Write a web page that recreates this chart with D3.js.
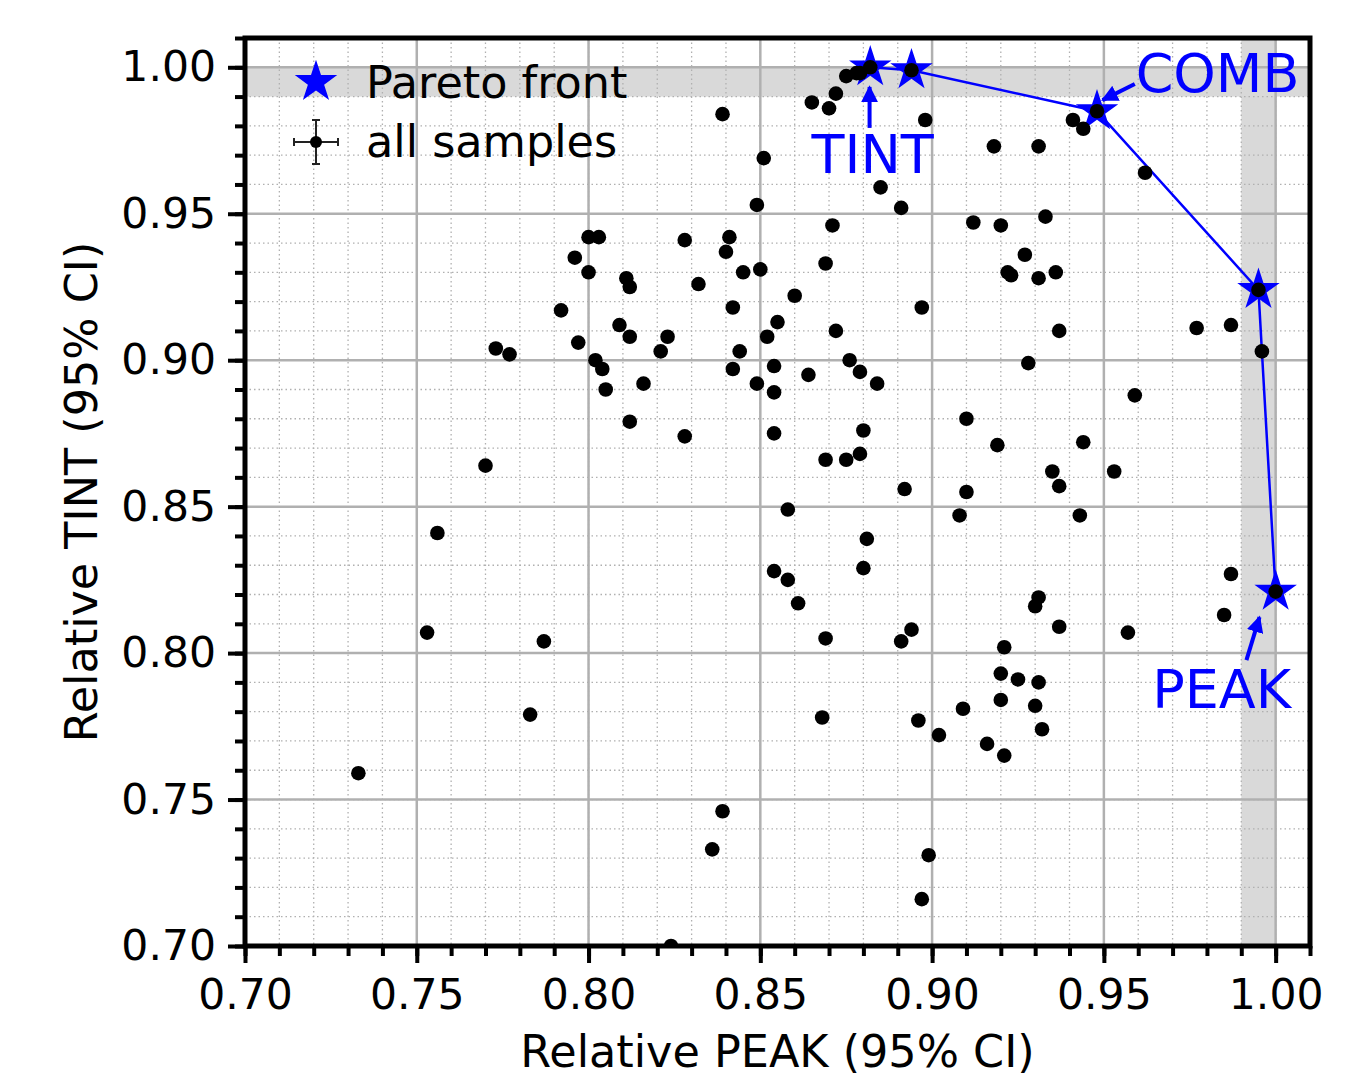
<!DOCTYPE html>
<html>
<head>
<meta charset="utf-8">
<script src="https://cdn.jsdelivr.net/npm/d3@7"></script>
<style>
  body { margin: 0; background: #fff; }
  text { font-family: "DejaVu Sans", sans-serif; }
</style>
</head>
<body>
<div id="chart"></div>
<script>
// all samples: relative PEAK (x) and relative TINT (y)
const samplePeak = [
  0.839, 0.865, 0.870, 0.872, 0.875, 0.878, 0.879, 0.882, 0.894, 0.948, 0.995, 1.000,
  0.851, 0.898, 0.918, 0.931, 0.941, 0.944, 0.962, 0.885, 0.849, 0.891, 0.933, 0.912,
  0.920, 0.871, 0.828, 0.800, 0.803, 0.841, 0.840, 0.796, 0.800, 0.850, 0.869, 0.927,
  0.922, 0.923, 0.931, 0.936, 0.811, 0.812, 0.832, 0.845, 0.842, 0.860, 0.792, 0.897,
  0.809, 0.855, 0.852, 0.872, 0.937, 0.977, 0.987, 0.812, 0.823, 0.821, 0.797, 0.773,
  0.777, 0.802, 0.844, 0.804, 0.805, 0.816, 0.842, 0.849, 0.854, 0.864, 0.876, 0.879,
  0.884, 0.996, 0.928, 0.854, 0.959, 0.812, 0.910, 0.828, 0.854, 0.880, 0.919, 0.944,
  0.869, 0.875, 0.879, 0.935, 0.953, 0.770, 0.937, 0.892, 0.910, 0.908, 0.943, 0.858,
  0.756, 0.881, 0.854, 0.880, 0.858, 0.987, 0.931, 0.930, 0.861, 0.937, 0.985, 0.957,
  0.753, 0.869, 0.894, 0.891, 0.787, 0.921, 0.920, 0.925, 0.931, 0.920, 0.930, 0.783,
  0.909, 0.868, 0.896, 0.932, 0.902, 0.916, 0.921, 0.733, 0.839, 0.836, 0.899, 0.897,
  0.824
];
const sampleTint = [
  0.984, 0.988, 0.986, 0.991, 0.997, 0.998, 0.998, 1.000, 0.999, 0.985, 0.924, 0.821,
  0.969, 0.982, 0.973, 0.973, 0.982, 0.979, 0.964, 0.959, 0.953, 0.952, 0.949, 0.947,
  0.946, 0.946, 0.941, 0.942, 0.942, 0.942, 0.937, 0.935, 0.930, 0.931, 0.933, 0.936,
  0.930, 0.929, 0.928, 0.930, 0.928, 0.925, 0.926, 0.930, 0.918, 0.922, 0.917, 0.918,
  0.912, 0.913, 0.908, 0.910, 0.910, 0.911, 0.912, 0.908, 0.908, 0.903, 0.906, 0.904,
  0.902, 0.900, 0.903, 0.897, 0.890, 0.892, 0.897, 0.892, 0.898, 0.895, 0.900, 0.896,
  0.892, 0.903, 0.899, 0.889, 0.888, 0.879, 0.880, 0.874, 0.875, 0.876, 0.871, 0.872,
  0.866, 0.866, 0.868, 0.862, 0.862, 0.864, 0.857, 0.856, 0.855, 0.847, 0.847, 0.849,
  0.841, 0.839, 0.828, 0.829, 0.825, 0.827, 0.819, 0.816, 0.817, 0.809, 0.813, 0.807,
  0.807, 0.805, 0.808, 0.804, 0.804, 0.802, 0.793, 0.791, 0.790, 0.784, 0.782, 0.779,
  0.781, 0.778, 0.777, 0.774, 0.772, 0.769, 0.765, 0.759, 0.746, 0.733, 0.731, 0.716,
  0.700
];

// Pareto front (line runs through all, stars on the marked ones)
const frontPeak = [0.882, 0.894, 0.948, 0.995, 0.996, 1.000];
const frontTint = [1.000, 0.999, 0.985, 0.924, 0.903, 0.821];
const frontStar = [true, true, true, true, false, true];

// annotated optima
const labelNames = ['TINT', 'COMB', 'PEAK'];
const labelPeak = [0.8827, 0.9831, 0.9843];
const labelTint = [0.9639, 0.9916, 0.7813];
const arrowFromPeak = [0.8818, 0.9590, 0.9915];
const arrowFromTint = [0.9793, 0.9943, 0.7976];
const arrowToPeak = [0.8818, 0.9496, 0.9953];
const arrowToTint = [0.9933, 0.9888, 0.8123];

const xTicks = [0.70, 0.75, 0.80, 0.85, 0.90, 0.95, 1.00];
const yTicks = [0.70, 0.75, 0.80, 0.85, 0.90, 0.95, 1.00];
const minorTicks = d3.range(70, 102).map(d => d / 100);

const W = 1367, H = 1082;
const margin = {t: 38, r: 57, b: 136, l: 245};
const w = W - margin.l - margin.r;
const h = H - margin.t - margin.b;

const x = d3.scaleLinear().domain([0.70, 1.01]).range([0, w]);
const y = d3.scaleLinear().domain([0.70, 1.01]).range([h, 0]);

const svg = d3.select('#chart').append('svg')
  .attr('width', W).attr('height', H);

const plot = svg.append('g')
  .attr('transform', `translate(${margin.l},${margin.t})`);

plot.append('clipPath').attr('id', 'clip')
  .append('rect').attr('width', w).attr('height', h);

// shaded optimum bands
plot.append('rect')
  .attr('x', 0).attr('width', w)
  .attr('y', y(1.00)).attr('height', y(0.99) - y(1.00))
  .attr('fill', '#d9d9d9');
plot.append('rect')
  .attr('x', x(0.99)).attr('width', x(1.00) - x(0.99))
  .attr('y', 0).attr('height', h)
  .attr('fill', '#d9d9d9');

// grid: minor dotted, major solid
const grid = plot.append('g');
grid.selectAll('.vminor').data(minorTicks).enter().append('line')
  .attr('x1', d => x(d)).attr('x2', d => x(d)).attr('y1', 0).attr('y2', h)
  .attr('stroke', '#b0b0b0').attr('stroke-width', 1.3).attr('stroke-dasharray', '1.5,3');
grid.selectAll('.hminor').data(minorTicks).enter().append('line')
  .attr('y1', d => y(d)).attr('y2', d => y(d)).attr('x1', 0).attr('x2', w)
  .attr('stroke', '#b0b0b0').attr('stroke-width', 1.3).attr('stroke-dasharray', '1.5,3');
grid.selectAll('.vmajor').data(xTicks).enter().append('line')
  .attr('x1', d => x(d)).attr('x2', d => x(d)).attr('y1', 0).attr('y2', h)
  .attr('stroke', '#b0b0b0').attr('stroke-width', 2.5);
grid.selectAll('.hmajor').data(yTicks).enter().append('line')
  .attr('y1', d => y(d)).attr('y2', d => y(d)).attr('x1', 0).attr('x2', w)
  .attr('stroke', '#b0b0b0').attr('stroke-width', 2.5);

// pareto front line
const line = d3.line().x(d => x(d[0])).y(d => y(d[1]));
const front = frontPeak.map((p, i) => [p, frontTint[i], frontStar[i]]);
plot.append('path')
  .datum(front)
  .attr('d', line)
  .attr('fill', 'none')
  .attr('stroke', '#0000ff')
  .attr('stroke-width', 2.5);

// stars
const star = d3.symbol().type(d3.symbolStar).size(560);
plot.selectAll('.star').data(front.filter(d => d[2])).enter().append('path')
  .attr('class', 'star')
  .attr('d', star)
  .attr('transform', d => `translate(${x(d[0])},${y(d[1])})`)
  .attr('fill', '#0000ff');

// samples
const samples = samplePeak.map((p, i) => [p, sampleTint[i]]);
plot.append('g').attr('clip-path', 'url(#clip)')
  .selectAll('circle').data(samples).enter().append('circle')
  .attr('cx', d => x(d[0]))
  .attr('cy', d => y(d[1]))
  .attr('r', 7.3)
  .attr('fill', '#000');

// annotations
const defs = svg.append('defs');
defs.append('marker')
  .attr('id', 'head')
  .attr('viewBox', '0 0 10 10')
  .attr('refX', 9).attr('refY', 5)
  .attr('markerWidth', 4.2).attr('markerHeight', 4.2)
  .attr('markerUnits', 'strokeWidth')
  .attr('orient', 'auto')
  .append('path').attr('d', 'M0,0 L10,5 L0,10 Z').attr('fill', '#0000ff');

labelNames.forEach((name, i) => {
  plot.append('line')
    .attr('x1', x(arrowFromPeak[i])).attr('y1', y(arrowFromTint[i]))
    .attr('x2', x(arrowToPeak[i])).attr('y2', y(arrowToTint[i]))
    .attr('stroke', '#0000ff').attr('stroke-width', 4)
    .attr('marker-end', 'url(#head)');
  plot.append('text')
    .attr('x', x(labelPeak[i])).attr('y', y(labelTint[i]))
    .attr('text-anchor', 'middle')
    .attr('font-size', 54)
    .attr('fill', '#0000ff')
    .text(name);
});

// axes: minor + major ticks
const xMinor = plot.append('g').attr('transform', `translate(0,${h})`)
  .call(d3.axisBottom(x).tickValues(minorTicks).tickSize(10).tickFormat(''));
const yMinor = plot.append('g')
  .call(d3.axisLeft(y).tickValues(minorTicks).tickSize(10).tickFormat(''));
const xMajor = plot.append('g').attr('transform', `translate(0,${h})`)
  .call(d3.axisBottom(x).tickValues(xTicks).tickSize(17).tickPadding(10).tickFormat(d3.format('.2f')));
const yMajor = plot.append('g')
  .call(d3.axisLeft(y).tickValues(yTicks).tickSize(17).tickPadding(12).tickFormat(d3.format('.2f')));

[xMinor, yMinor, xMajor, yMajor].forEach(g => {
  g.select('.domain').remove();
  g.selectAll('.tick line').attr('stroke', '#000').attr('stroke-width', 4);
  g.selectAll('.tick text').attr('font-size', 42.5).attr('fill', '#000')
    .attr('font-family', '"DejaVu Sans", sans-serif');
});
xMajor.selectAll('.tick text').attr('dy', '0.85em');

// frame
plot.append('rect')
  .attr('width', w).attr('height', h)
  .attr('fill', 'none').attr('stroke', '#000').attr('stroke-width', 5);

// axis titles (centred on the axes box)
svg.append('text')
  .attr('x', margin.l + w / 2).attr('y', 1067)
  .attr('text-anchor', 'middle').attr('font-size', 44.5)
  .text('Relative PEAK (95% CI)');
svg.append('text')
  .attr('transform', `translate(97,${margin.t + h / 2}) rotate(-90)`)
  .attr('text-anchor', 'middle').attr('font-size', 44.5)
  .text('Relative TINT (95% CI)');

// legend
const legend = plot.append('g').attr('transform', 'translate(71,44)');
legend.append('path')
  .attr('d', star)
  .attr('fill', '#0000ff');
legend.append('text')
  .attr('x', 50).attr('y', 16).attr('font-size', 44.5)
  .text('Pareto front');
const eb = legend.append('g').attr('transform', 'translate(0,60)');
eb.append('line').attr('x1', -22).attr('x2', 22).attr('stroke', '#222').attr('stroke-width', 2);
eb.append('line').attr('y1', -22).attr('y2', 22).attr('stroke', '#222').attr('stroke-width', 2);
[-22, 22].forEach(v => {
  eb.append('line').attr('x1', v).attr('x2', v).attr('y1', -4).attr('y2', 4).attr('stroke', '#222').attr('stroke-width', 2);
  eb.append('line').attr('y1', v).attr('y2', v).attr('x1', -4).attr('x2', 4).attr('stroke', '#222').attr('stroke-width', 2);
});
eb.append('circle').attr('r', 6).attr('fill', '#000');
legend.append('text')
  .attr('x', 50).attr('y', 75).attr('font-size', 44.5)
  .text('all samples');
</script>
</body>
</html>
